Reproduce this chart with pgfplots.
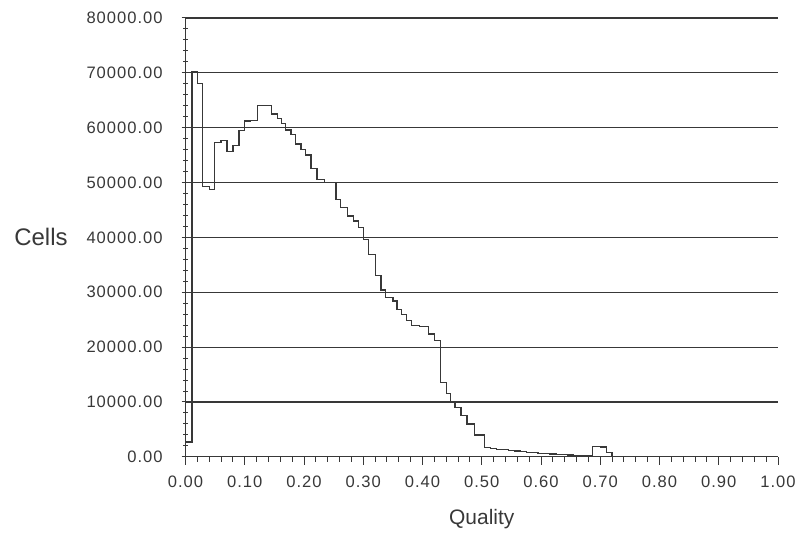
\documentclass[border=0pt]{standalone}
\usepackage{fontspec}
\setmainfont{Liberation Sans}
\newfontfamily\tickfont[LetterSpace=6]{Liberation Sans}
\usepackage{pgfplots}
\pgfplotsset{compat=1.18}
\definecolor{ink}{gray}{0.22}
\begin{document}
\begin{tikzpicture}
\begin{axis}[
  scale only axis,
  width=297pt, height=220pt,
  xmin=0, xmax=1, ymin=0, ymax=80000,
  axis x line*=bottom, axis y line*=left,
  axis line style={ink, line width=0.6pt},
  xtick={0,0.1,...,1.0}, minor x tick num=4,
  ytick={0,10000,...,80000}, minor y tick num=4,
  xtick align=outside, ytick align=center,
  major tick length=4pt, minor tick length=2.5pt,
  every tick/.style={ink, line width=0.5pt},
  ymajorgrids,
  major grid style={ink, line width=0.6pt},
  scaled ticks=false,
  /pgf/number format/.cd, fixed, fixed zerofill, precision=2, 1000 sep={}, assume math mode=true,
  /pgfplots/.cd,
  tick label style={font=\tickfont\fontsize{8.3}{9}\selectfont, text=ink},
  yticklabel style={xshift=-6pt},
  xticklabel style={yshift=-2pt},
  xlabel={Quality}, ylabel={Cells},
  label style={font=\fontsize{10.5}{12}\selectfont, text=ink},
  xlabel style={at={(axis description cs:0.5,-0.141)}, anchor=center},
  ylabel style={at={(axis description cs:-0.244,0.5)}, anchor=center, rotate=-90, font=\fontsize{12}{14}\selectfont},
]
\addplot[const plot mark left, ink, line width=0.65pt, mark=none] coordinates {
(0.000,2700) (0.011,70200) (0.020,68000) (0.029,49300) (0.040,48700)
(0.049,57300) (0.060,57700) (0.070,55700) (0.080,56700) (0.090,59500)
(0.100,61200) (0.110,61300) (0.121,64000) (0.130,64000) (0.145,62500)
(0.155,61700) (0.162,60800) (0.169,59600) (0.178,58700) (0.186,57000)
(0.195,56000) (0.203,55000) (0.212,52500) (0.222,50500) (0.234,50000)
(0.254,46900) (0.262,45400) (0.273,43900) (0.284,43000) (0.292,41800)
(0.300,39600) (0.309,36900) (0.321,33000) (0.330,30400) (0.337,29000)
(0.350,28400) (0.357,26900) (0.365,26000) (0.373,24800) (0.381,24000)
(0.395,23800) (0.410,22400) (0.420,21200) (0.430,13500) (0.440,11500)
(0.447,10000) (0.455,9000) (0.465,7500) (0.475,6000) (0.488,4000)
(0.505,1700) (0.515,1500) (0.525,1400) (0.535,1300) (0.545,1200)
(0.555,1050) (0.565,950) (0.575,850) (0.585,750) (0.595,650)
(0.605,550) (0.615,500) (0.625,450) (0.635,400) (0.645,350)
(0.655,300) (0.665,250) (0.675,300) (0.687,1900) (0.700,1800)
(0.710,800) (0.720,0)
};
\end{axis}
\pgfresetboundingbox
\path[use as bounding box] ([xshift=-93pt,yshift=-39pt]current axis.south west) rectangle ([xshift=9pt,yshift=9pt]current axis.north east);
\end{tikzpicture}
\end{document}
